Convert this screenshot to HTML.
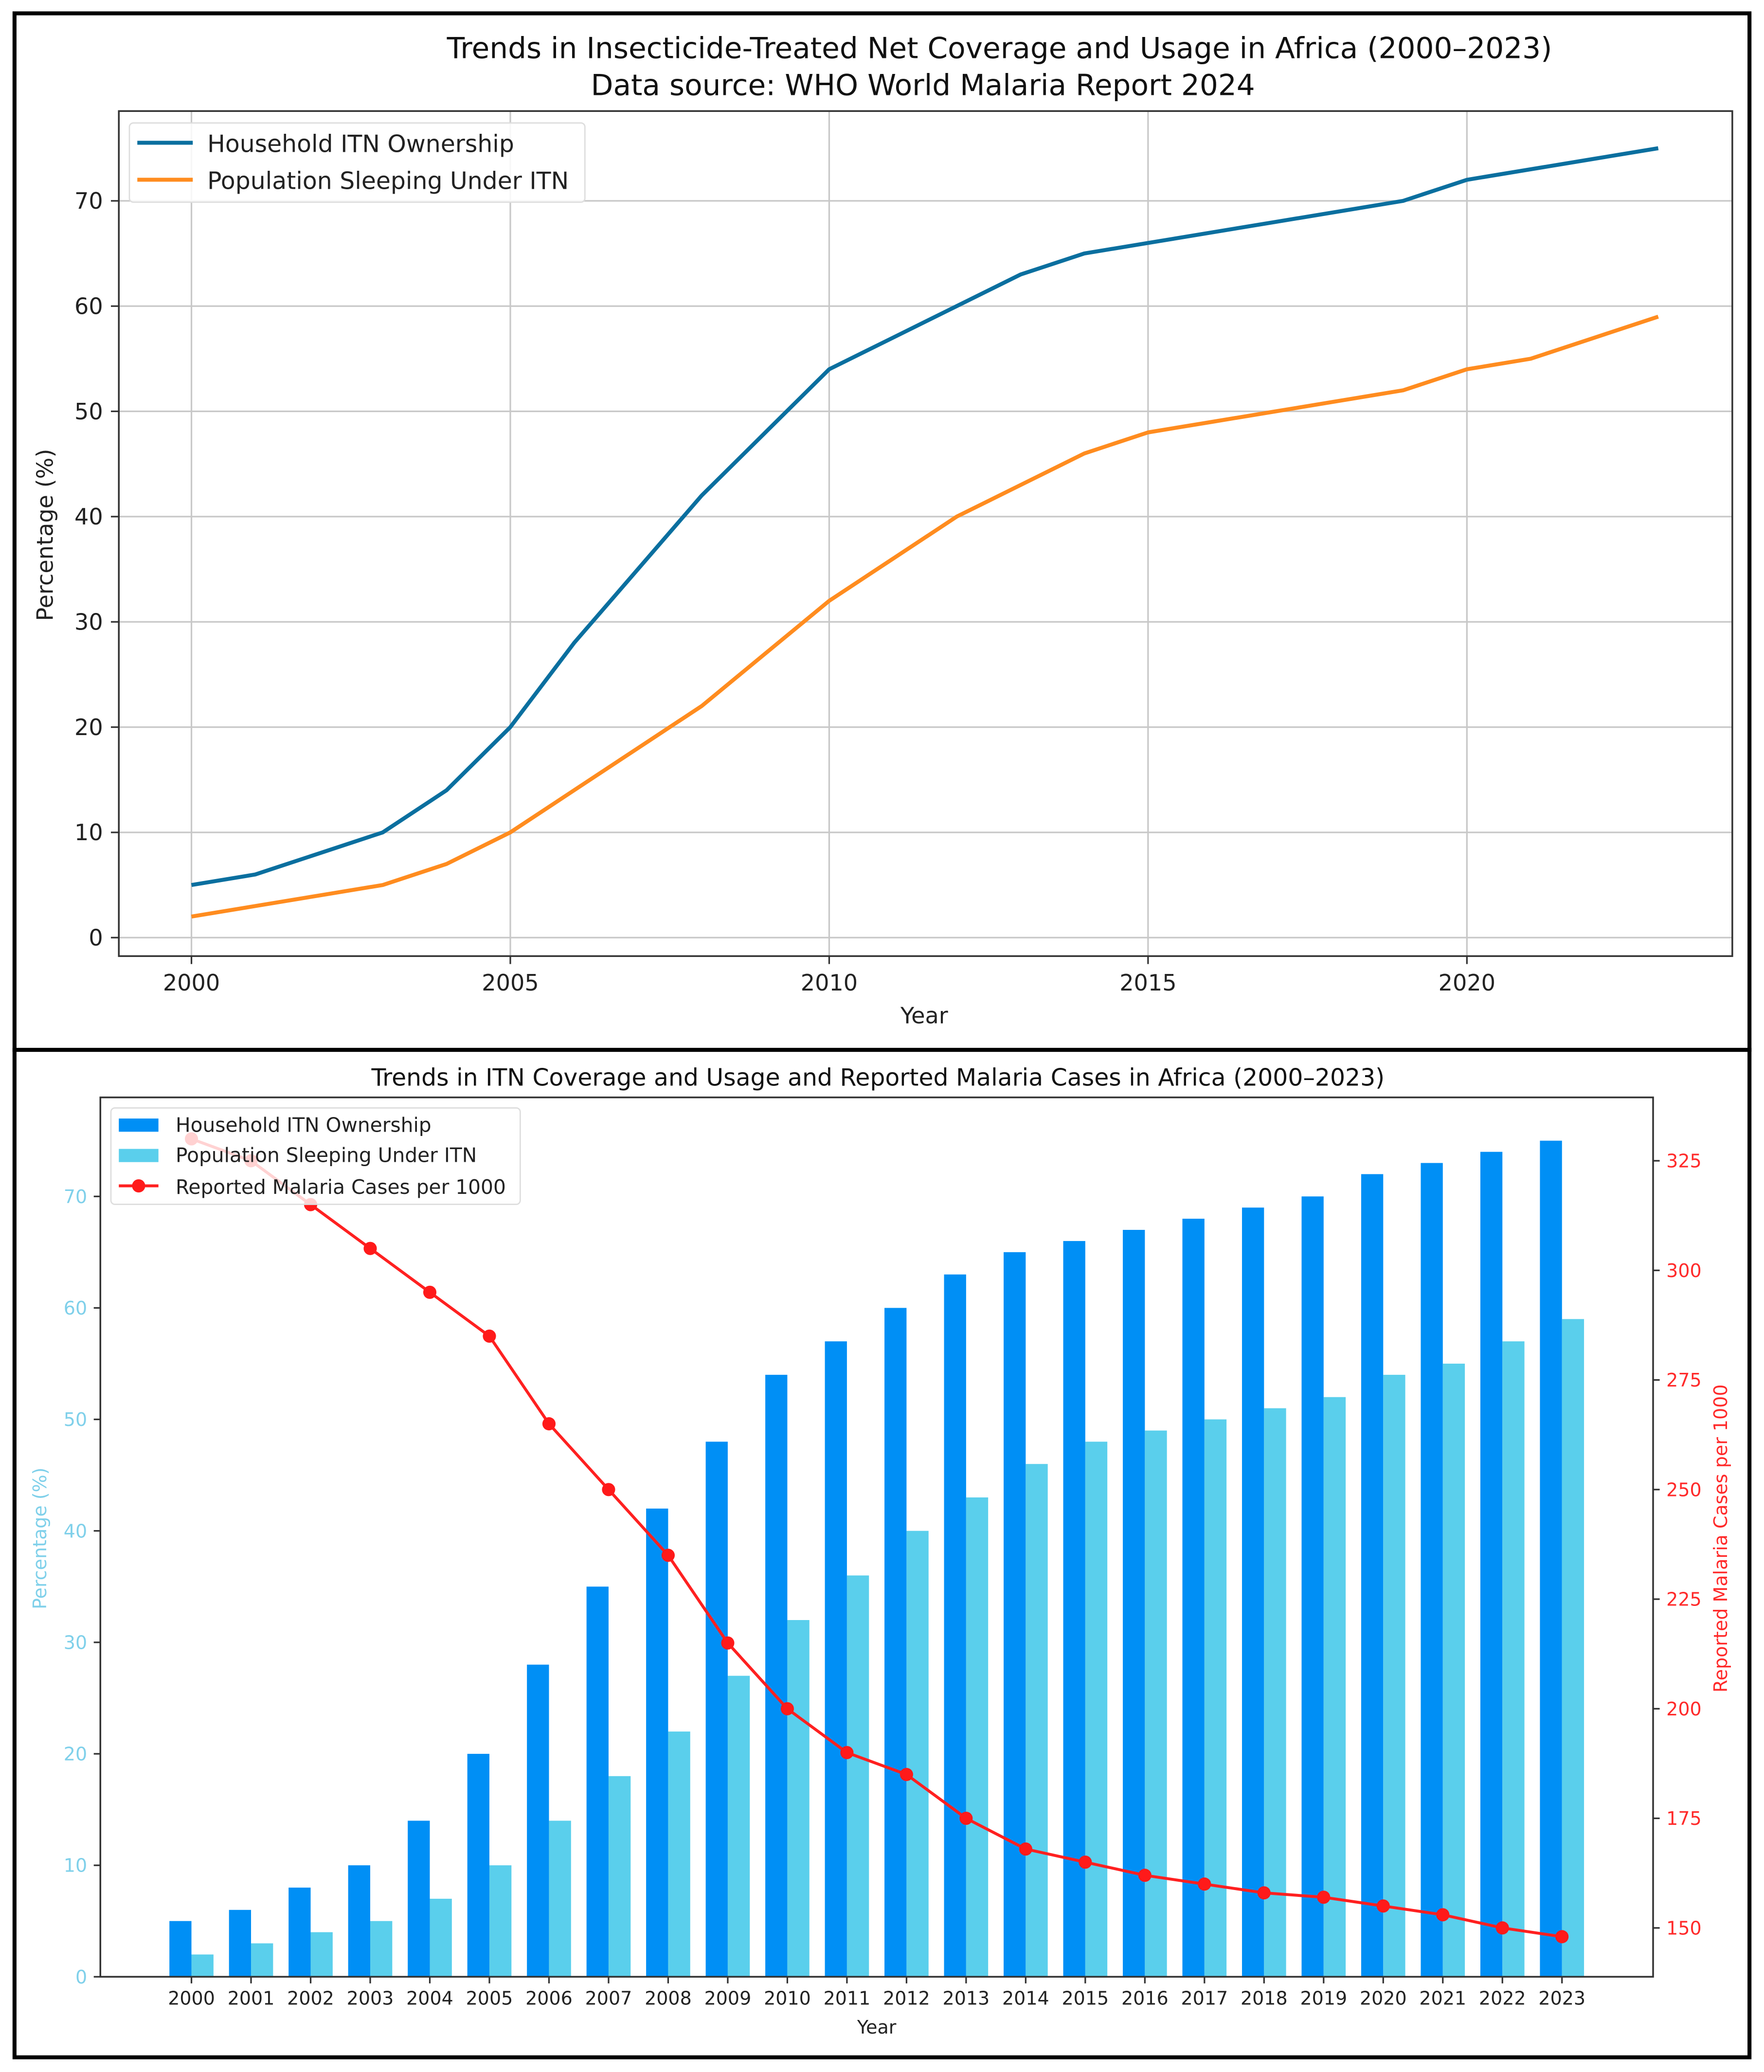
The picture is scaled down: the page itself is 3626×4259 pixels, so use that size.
<!DOCTYPE html>
<html><head><meta charset="utf-8"><style>
html,body{margin:0;padding:0;background:#fff}
svg{display:block}
text{font-family:"DejaVu Sans","Liberation Sans",sans-serif}
</style></head><body>
<svg id="c" xmlns="http://www.w3.org/2000/svg" width="3626" height="4259" viewBox="0 0 1336 1569">
<rect x="0" y="0" width="1336" height="1569" fill="#fff"/>
<rect x="11" y="10" width="1314" height="785" fill="none" stroke="#000" stroke-width="3"/>
<rect x="11" y="795" width="1314" height="763" fill="none" stroke="#000" stroke-width="3"/>
<g id="top"></g>
<g id="bot"></g>
</svg>
<script>
const years=[2000,2001,2002,2003,2004,2005,2006,2007,2008,2009,2010,2011,2012,2013,2014,2015,2016,2017,2018,2019,2020,2021,2022,2023];
const ownership=[5,6,8,10,14,20,28,35,42,48,54,57,60,63,65,66,67,68,69,70,72,73,74,75];
const sleeping=[2,3,4,5,7,10,14,18,22,27,32,36,40,43,46,48,49,50,51,52,54,55,57,59];
const cases=[330,325,315,305,295,285,265,250,235,215,200,190,185,175,168,165,162,160,158,157,155,153,150,148];
const topXTicks=[2000,2005,2010,2015,2020];
const pctTicks=[0,10,20,30,40,50,60,70];
const caseTicks=[150,175,200,225,250,275,300,325];

const NS="http://www.w3.org/2000/svg";
function mk(parent,tag,attrs,txt){const e=document.createElementNS(NS,tag);for(const k in attrs)e.setAttribute(k,attrs[k]);if(txt!==undefined)e.textContent=txt;parent.appendChild(e);return e;}

// ---------- Top chart ----------
const T=document.getElementById('top');
const tx=y=>145+(y-2000)*(1111-145)/20;
const ty=v=>710-v*(710-152)/70;
const tL=90,tR=1312,tT=84,tB=724;
for(const t of topXTicks){
 const l=mk(T,'line',{x1:tx(t),x2:tx(t),y1:tT,y2:tB,stroke:'#c8c8c8','stroke-width':1.2});
 
 
 mk(T,'line',{x1:tx(t),x2:tx(t),y1:tB,y2:tB+6,stroke:'#333','stroke-width':1.2});
 const s=mk(T,'text',{x:tx(t),y:tB+26,'font-size':17,'text-anchor':'middle',fill:'#222'},t);
 
 
}
for(const p of pctTicks){
 const l=mk(T,'line',{x1:tL,x2:tR,y1:ty(p),y2:ty(p),stroke:'#c8c8c8','stroke-width':1.2});
 
 
 mk(T,'line',{x1:tL-6,x2:tL,y1:ty(p),y2:ty(p),stroke:'#333','stroke-width':1.2});
 const s=mk(T,'text',{x:tL-12,y:ty(p)+6,'font-size':17,'text-anchor':'end',fill:'#222'},p);
 
 
}
let e=mk(T,'rect',{x:tL,y:tT,width:tR-tL,height:tB-tT,fill:'none',stroke:'#333','stroke-width':1.3});

function line(parent,data,xf,yf,color,w,name){
 const p=mk(parent,'polyline',{points:data.map((v,i)=>xf(years[i])+','+yf(v)).join(' '),fill:'none',stroke:color,'stroke-width':w,'stroke-linejoin':'round'});
 
 
 return p;
}
line(T,ownership,tx,ty,'#0a6f9f',3,'ownership-line');
line(T,sleeping,tx,ty,'#ff8c1f',3,'sleeping-line');
e=mk(T,'text',{x:757,y:44,'font-size':22,'text-anchor':'middle',fill:'#111'},'Trends in Insecticide-Treated Net Coverage and Usage in Africa (2000–2023)');

e=mk(T,'text',{x:699,y:72,'font-size':22,'text-anchor':'middle',fill:'#111'},'Data source: WHO World Malaria Report 2024');

e=mk(T,'text',{x:700,y:775,'font-size':17,'text-anchor':'middle',fill:'#222'},'Year');

e=mk(T,'text',{x:0,y:0,'font-size':17,'text-anchor':'middle',fill:'#222',transform:'translate(40,405) rotate(-90)'},'Percentage (%)');

const lg=mk(T,'g',{});

mk(lg,'rect',{x:98,y:93,width:345,height:60,rx:3,fill:'#fff','fill-opacity':0.85,stroke:'#ddd'});
mk(lg,'line',{x1:104,x2:146,y1:108,y2:108,stroke:'#0a6f9f','stroke-width':3});
mk(lg,'text',{x:157,y:115,'font-size':18,fill:'#222'},'Household ITN Ownership');
mk(lg,'line',{x1:104,x2:146,y1:136,y2:136,stroke:'#ff8c1f','stroke-width':3});
mk(lg,'text',{x:157,y:143,'font-size':18,fill:'#222'},'Population Sleeping Under ITN');

// ---------- Bottom chart ----------
const B=document.getElementById('bot');
const bL=76,bR=1252,bT=831,bB=1497;
const bx=y=>145+(y-2000)*(1183-145)/23;
const by=v=>1497-v*(1497-906)/70;
const ry=v=>1460-(v-150)*(1460-879)/175;
const bw=16.7;
years.forEach((yr,i)=>{
 const r1=mk(B,'rect',{x:bx(yr)-bw,y:by(ownership[i]),width:bw,height:by(0)-by(ownership[i]),fill:'#008ff5'});
 
 
 const r2=mk(B,'rect',{x:bx(yr),y:by(sleeping[i]),width:bw,height:by(0)-by(sleeping[i]),fill:'#5acfec'});
 
 
 mk(B,'line',{x1:bx(yr),x2:bx(yr),y1:bB,y2:bB+5,stroke:'#333','stroke-width':1.2});
 const s=mk(B,'text',{x:bx(yr),y:bB+21,'font-size':14,'text-anchor':'middle',fill:'#222'},yr);
 
 
});
e=mk(B,'rect',{x:bL,y:bT,width:bR-bL,height:bB-bT,fill:'none',stroke:'#333','stroke-width':1.3});

for(const p of pctTicks){
 mk(B,'line',{x1:bL-5,x2:bL,y1:by(p),y2:by(p),stroke:'#333','stroke-width':1.2});
 const s=mk(B,'text',{x:bL-10,y:by(p)+5,'font-size':14,'text-anchor':'end',fill:'#7fd0ea'},p);
 
 
}
for(const c of caseTicks){
 mk(B,'line',{x1:bR,x2:bR+5,y1:ry(c),y2:ry(c),stroke:'#333','stroke-width':1.2});
 const s=mk(B,'text',{x:bR+10,y:ry(c)+5,'font-size':14,fill:'#ff2a2a'},c);
 
 
}
line(B,cases,bx,ry,'#ff2020',2.2,'cases-line');
years.forEach((yr,i)=>{
 const c=mk(B,'circle',{cx:bx(yr),cy:ry(cases[i]),r:5,fill:'#ff1a1a'});
 
 
});
e=mk(B,'text',{x:665,y:822,'font-size':18,'text-anchor':'middle',fill:'#111'},'Trends in ITN Coverage and Usage and Reported Malaria Cases in Africa (2000–2023)');

e=mk(B,'text',{x:664,y:1540,'font-size':14,'text-anchor':'middle',fill:'#222'},'Year');

e=mk(B,'text',{x:0,y:0,'font-size':14,'text-anchor':'middle',fill:'#7fd0ea',transform:'translate(35,1165) rotate(-90)'},'Percentage (%)');

e=mk(B,'text',{x:0,y:0,'font-size':14,'text-anchor':'middle',fill:'#ff2a2a',transform:'translate(1308,1165) rotate(-90)'},'Reported Malaria Cases per 1000');

const lg2=mk(B,'g',{});

mk(lg2,'rect',{x:84,y:839,width:310,height:73,rx:3,fill:'#fff','fill-opacity':0.8,stroke:'#ddd'});
mk(lg2,'rect',{x:90,y:847,width:30,height:10,fill:'#008ff5'});
mk(lg2,'text',{x:133,y:857,'font-size':15,fill:'#222'},'Household ITN Ownership');
mk(lg2,'rect',{x:90,y:870,width:30,height:10,fill:'#5acfec'});
mk(lg2,'text',{x:133,y:880,'font-size':15,fill:'#222'},'Population Sleeping Under ITN');
mk(lg2,'line',{x1:90,x2:120,y1:898,y2:898,stroke:'#ff2020','stroke-width':2.2});
mk(lg2,'circle',{cx:105,cy:898,r:5,fill:'#ff1a1a'});
mk(lg2,'text',{x:133,y:904,'font-size':15,fill:'#222'},'Reported Malaria Cases per 1000');
</script>
</body></html>
